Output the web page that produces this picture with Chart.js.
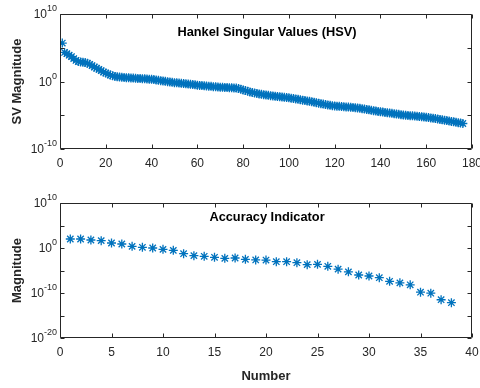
<!DOCTYPE html>
<html><head><meta charset="utf-8">
<script src="https://cdn.jsdelivr.net/npm/chart.js@4.4.1/dist/chart.umd.min.js"></script>
<style>
body{margin:0;background:#fff;width:480px;height:388px;position:relative;overflow:hidden}
canvas{position:absolute;left:0}
#c1{top:0}#c2{top:190px}
</style></head><body>
<canvas id="c1" width="480" height="175"></canvas>
<canvas id="c2" width="480" height="198"></canvas>
<script>
// Hankel singular values, index 1..176
const hsvValues = [
5.0e5,2.0e4,1.3e4,7.9e3,5.0e3,2.5e3,1.3e3,8.9e2,7.9e2,7.1e2,
6.3e2,5.0e2,3.5e2,2.2e2,1.4e2,89,63,40,25,18,
13,8.9,7.1,5.6,5.0,4.5,4.2,4.0,3.7,3.5,
3.3,3.2,3.0,2.8,2.7,2.6,2.5,2.4,2.2,2.1,
1.9,1.7,1.5,1.3,1.2,1.07,0.95,0.85,0.76,0.68,
0.63,0.59,0.54,0.50,0.46,0.42,0.38,0.35,0.32,0.28,
0.26,0.25,0.23,0.21,0.20,0.19,0.17,0.16,0.15,0.14,
0.135,0.13,0.126,0.123,0.117,0.112,0.105,0.089,0.071,0.056,
0.045,0.035,0.028,0.023,0.020,0.017,0.0145,0.0126,0.0112,0.010,
8.9e-3,7.9e-3,7.2e-3,6.6e-3,6.0e-3,5.5e-3,5.0e-3,4.6e-3,4.2e-3,3.8e-3,
3.4e-3,3.0e-3,2.6e-3,2.3e-3,2.0e-3,1.7e-3,1.5e-3,1.3e-3,1.15e-3,1.0e-3,
8.5e-4,7.2e-4,6.2e-4,5.2e-4,4.5e-4,3.8e-4,3.3e-4,3.0e-4,2.6e-4,2.4e-4,
2.2e-4,2.1e-4,1.95e-4,1.8e-4,1.7e-4,1.6e-4,1.5e-4,1.4e-4,1.3e-4,1.2e-4,
1.07e-4,9.5e-5,8.3e-5,7.2e-5,6.3e-5,5.5e-5,4.8e-5,4.2e-5,3.7e-5,3.3e-5,
3.0e-5,2.6e-5,2.3e-5,2.1e-5,1.9e-5,1.7e-5,1.5e-5,1.35e-5,1.2e-5,1.07e-5,
1.0e-5,9.3e-6,8.7e-6,8.1e-6,7.6e-6,7.1e-6,6.6e-6,6.0e-6,5.5e-6,5.0e-6,
4.5e-6,4.0e-6,3.5e-6,3.2e-6,2.8e-6,2.4e-6,2.1e-6,1.8e-6,1.6e-6,1.4e-6,
1.2e-6,1.05e-6,9.1e-7,7.9e-7,6.9e-7,6.0e-7
];
// Accuracy indicator, index 1..38
const accValues = [
100,100,60,43,13,7.8,2.3,1.4,1.0,0.5,
0.3,0.055,0.02,0.014,0.0085,0.005,0.006,0.003,0.0022,0.0021,
9e-4,9e-4,5.5e-4,2e-4,2.3e-4,8.5e-5,2e-5,5e-6,1e-6,6e-7,
2.5e-7,4e-8,1.8e-8,6.5e-9,1.5e-10,9e-11,3.2e-12,7e-13
];
const topTitle = 'Hankel Singular Values (HSV)';
const botTitle = 'Accuracy Indicator';
// tick marks (every 5 decades) and labelled ticks (base, exponent)
const topYTicks = [1e-10, 1e-5, 1, 1e5, 1e10];
const botYTicks = [1e-20, 1e-15, 1e-10, 1e-5, 1, 1e5, 1e10];
const topYLabels = [[1e-10, '10', '-10'], [1, '10', '0'], [1e10, '10', '10']];
const botYLabels = [[1e-20, '10', '-20'], [1e-10, '10', '-10'], [1, '10', '0'], [1e10, '10', '10']];

const COLOR = '#0072BD';
const AX = '#262626';
const FONT = "'Liberation Sans', Arial, Helvetica, sans-serif";

const frame = {
  id: 'frame',
  afterDraw(chart) {
    const {ctx, chartArea: a, scales: {x, y}} = chart;
    const o = chart.options.plugins.frame;
    ctx.save();
    ctx.strokeStyle = AX; ctx.lineWidth = 1;
    const L = Math.round(a.left) + 0.5, R = Math.round(a.right) - 0.5;
    const T = Math.round(a.top) + 0.5, B = Math.round(a.bottom) - 0.5;
    ctx.beginPath();
    ctx.rect(L, T, R - L, B - T);
    x.ticks.forEach(t => {
      const p = Math.round(x.getPixelForValue(t.value)) + 0.5;
      ctx.moveTo(p, B); ctx.lineTo(p, B - 4);
      ctx.moveTo(p, T); ctx.lineTo(p, T + 4);
    });
    y.ticks.forEach(t => {
      const p = Math.round(y.getPixelForValue(t.value)) + 0.5;
      ctx.moveTo(L, p); ctx.lineTo(L + 4, p);
      ctx.moveTo(R, p); ctx.lineTo(R - 4, p);
    });
    ctx.stroke();
    // y tick labels with superscript exponents
    ctx.fillStyle = AX;
    ctx.textAlign = 'right'; ctx.textBaseline = 'middle';
    o.labels.forEach(([v, base, exp]) => {
      const p = y.getPixelForValue(v);
      ctx.font = '9px ' + FONT;
      const ew = ctx.measureText(exp).width;
      const xr = a.left - 3;
      ctx.fillText(exp, xr, p - 5);
      ctx.font = '12px ' + FONT;
      ctx.fillText(base, xr - ew, p + 1);
    });
    // title inside the plot box
    ctx.fillStyle = '#000';
    ctx.font = 'bold 12.8px ' + FONT;
    ctx.textAlign = 'center'; ctx.textBaseline = 'middle';
    ctx.fillText(o.text, (a.left + a.right) / 2 + 1, a.top + o.dy);
    ctx.restore();
  }
};

function makeChart(id, values, xMax, xStep, yMin, yMax, yTicks, yLabels, yTitle, xTitle, title, padTop, xHeight, titleDy, radius) {
  const pts = values.map((v, i) => ({x: i + 1, y: v}));
  return new Chart(document.getElementById(id), {
    type: 'scatter',
    data: {datasets: [{data: pts, pointStyle: 'star', radius: radius, borderColor: COLOR, backgroundColor: COLOR, borderWidth: 1.3, pointHoverRadius: radius}]},
    options: {
      responsive: false, animation: false, devicePixelRatio: 1,
      layout: {padding: {top: padTop, right: 8, left: 0, bottom: 0}},
      plugins: {legend: {display: false}, tooltip: {enabled: false}, frame: {text: title, dy: titleDy, labels: yLabels}},
      scales: {
        x: {
          type: 'linear', min: 0, max: xMax,
          grid: {display: false, drawTicks: false}, border: {display: false},
          ticks: {stepSize: xStep, padding: 7, color: AX, font: {family: FONT, size: 12}, maxRotation: 0},
          title: {display: !!xTitle, text: xTitle, color: AX, font: {family: FONT, size: 13, weight: 'bold'}, padding: {top: 0, bottom: 4}},
          afterFit(s) { s.height = xHeight; s.paddingLeft = 0; s.paddingRight = 0; }
        },
        y: {
          type: 'logarithmic', min: yMin, max: yMax,
          grid: {display: false, drawTicks: false}, border: {display: false},
          afterBuildTicks(s) { s.ticks = yTicks.map(v => ({value: v})); },
          ticks: {display: false},
          title: {display: true, text: yTitle, color: AX, font: {family: FONT, size: 13, weight: 'bold'}, padding: {top: 10, bottom: 0}},
          afterFit(s) { s.width = 60; s.paddingTop = 0; s.paddingBottom = 0; }
        }
      }
    },
    plugins: [frame]
  });
}

makeChart('c1', hsvValues, 180, 20, 1e-10, 1e10, topYTicks, topYLabels, 'SV Magnitude', '', topTitle, 14, 26, 18.5, 4.5);
makeChart('c2', accValues, 40, 5, 1e-20, 1e10, botYTicks, botYLabels, 'Magnitude', 'Number', botTitle, 13, 50, 14.5, 4.5);
</script>
</body></html>
